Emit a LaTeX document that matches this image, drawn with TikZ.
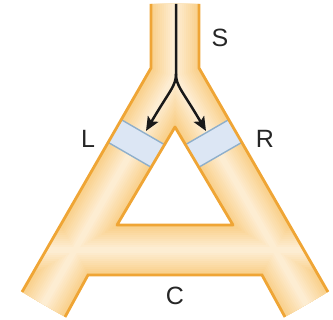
\documentclass[tikz,border=0pt]{standalone}
\usepackage{fontspec}
\setmainfont{Liberation Sans}
\usetikzlibrary{arrows.meta}
\definecolor{edgeO}{HTML}{EFA535}
\definecolor{fillO}{HTML}{F9CF88}
\definecolor{centO}{HTML}{FEF1DC}
\definecolor{bandB}{HTML}{DCE6F4}
\definecolor{bandL}{HTML}{8FAFCB}
\tikzset{
  edgeline/.style={draw=edgeO, line width=2.8pt},
  bandline/.style={draw=bandL, line width=1.4pt},
  flowarrow/.style={draw=black!90, line width=2.5pt, -{Stealth[length=14pt,width=12pt,inset=3pt]}},
  lbl/.style={font=\fontsize{25}{25}\selectfont, text=black!85, inner sep=0pt}
}
\begin{document}
\begin{tikzpicture}[x=1pt,y=-1pt]
\useasboundingbox (0,0) rectangle (333,320);
\coordinate (SL) at (151,4);
\coordinate (SLb) at (151,68);
\coordinate (FLo) at (22,292);
\coordinate (FLi) at (65,317);
\coordinate (CL) at (88,275);
\coordinate (CR) at (262,275);
\coordinate (FRi) at (285,317);
\coordinate (FRo) at (328,292);
\coordinate (SRb) at (199,68);
\coordinate (SR) at (199,4);
\coordinate (HA) at (175,127);
\coordinate (HL) at (117,225);
\coordinate (HR) at (233,225);
\begin{scope}[even odd rule]
  \clip (SL) -- (SLb) -- (FLo) -- (FLi) -- (CL) -- (CR) -- (FRi) -- (FRo) -- (SRb) -- (SR) -- cycle (HA) -- (HL) -- (HR) -- cycle;
  \fill[fillO] (0,0) rectangle (333,320);
  \foreach \w/\p in {46/8,42/16,38/24,34/32,30/40,26/48,22/56,18/64,14/72,10/80,6/88}
    \draw[line width=\w pt, color=centO!\p!fillO, line join=round, line cap=round]
      (175,-20) -- (175,76) -- (43.5,304.5) (175,76) -- (306.5,304.5) (40,250) -- (310,250);
  % bands
  \fill[bandB] (108.9,112.5) -- (178.1,152.5) -- (164.6,175) -- (95.4,135) -- cycle;
  \fill[bandB] (241.1,112.5) -- (171.9,152.5) -- (185.4,175) -- (254.6,135) -- cycle;
  \draw[bandline] (108.9,112.5) -- (178.1,152.5) (95.4,135) -- (164.6,175);
  \draw[bandline] (241.1,112.5) -- (171.9,152.5) (254.6,135) -- (185.4,175);
\end{scope}
\draw[edgeline] (SL) -- (SLb) -- (FLo);
\draw[edgeline] (FLi) -- (CL) -- (CR) -- (FRi);
\draw[edgeline] (FRo) -- (SRb) -- (SR);
\draw[edgeline, line join=round] (HA) -- (HL) -- (HR) -- cycle;
% flow
\coordinate (top) at (176,4);
\coordinate (split) at (176,74);
\coordinate (tipL) at (146,131);
\coordinate (tipR) at (206,131);
\draw[flowarrow] (top) -- (split) .. controls (176,86) and (170,90) .. (tipL);
\draw[flowarrow] (split) .. controls (176,86) and (182,90) .. (tipR);
% labels
\node[lbl] (S) at (220,38) {S};
\node[lbl] (L) at (88,139) {L};
\node[lbl] (R) at (265,139) {R};
\node[lbl] (C) at (175,296) {C};
\end{tikzpicture}
\end{document}
